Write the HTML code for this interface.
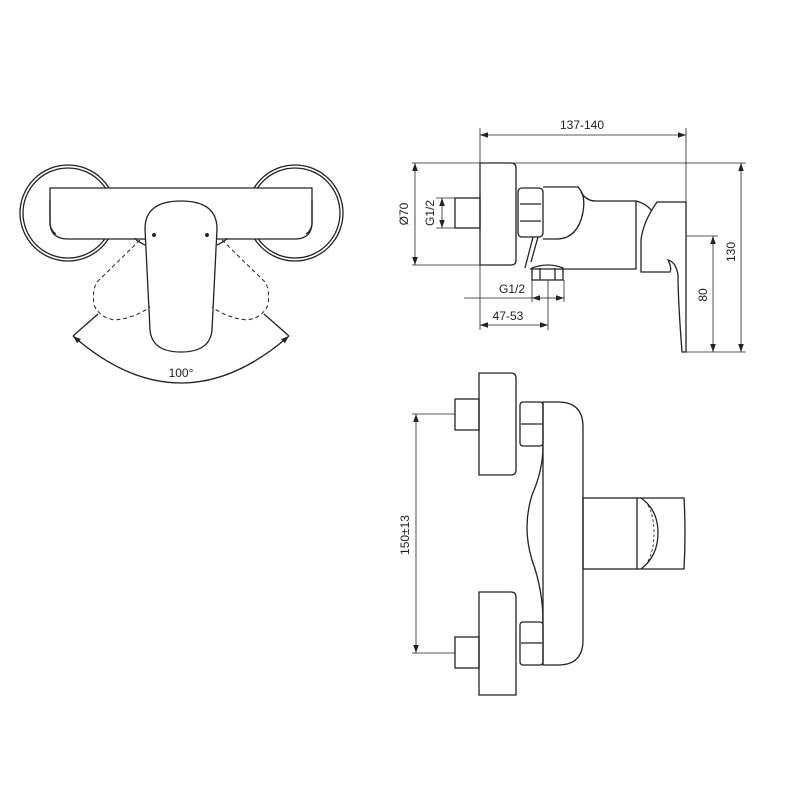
<!DOCTYPE html>
<html><head><meta charset="utf-8"><style>
html,body{margin:0;padding:0;background:#fff;}
svg{display:block;}
text{font-family:"Liberation Sans",sans-serif;fill:#222;}
</style></head><body>
<svg width="800" height="800" viewBox="0 0 800 800" xmlns="http://www.w3.org/2000/svg">
<defs>
<marker id="a" viewBox="0 0 10 10" refX="10" refY="5" markerWidth="8" markerHeight="8" orient="auto-start-reverse" markerUnits="userSpaceOnUse"><path d="M0,1.5 L10,5 L0,8.5 z" fill="#222"/></marker>
</defs>
<g fill="none" stroke="#222" stroke-width="1.3">
<!-- ===== Top view (left) ===== -->
<circle cx="68" cy="213" r="48"/><circle cx="68" cy="213" r="45"/>
<circle cx="295" cy="213" r="48"/><circle cx="295" cy="213" r="45"/>
<path d="M50,188 L312,188 L312,222 Q312,239 295,239 L68,239 Q50,239 50,222 Z" fill="#fff"/>
<path d="M50,200 L50,225 Q52,232 56,234" />
<path d="M312,200 L312,225 Q310,232 306,234"/>
<path d="M145,229 Q145,201 181,201 Q217,201 217,229 L212,330 Q210,352 181,352 Q152,352 150,330 Z" fill="#fff"/>
<circle cx="154" cy="235" r="1.3" fill="#222"/><circle cx="207" cy="235" r="1.3" fill="#222"/>
<path d="M145,245 Q135,240 135,238" />
<path d="M217,245 Q227,240 227,238"/>
<g stroke-dasharray="4,3" stroke-width="1">
<path d="M140,240 L97,282 Q92,290 94,305 Q100,318 115,320 Q135,318 150,307"/>
<path d="M222,240 L265,282 Q270,290 268,305 Q262,318 247,320 Q227,318 212,307"/>
</g>
<path d="M98,314 L73,336"/><path d="M264,314 L289,336"/>
<path d="M73,336 Q181,430 289,336" marker-start="url(#a)" marker-end="url(#a)"/>

<!-- ===== Side view (top right) ===== -->
<line x1="480" y1="128" x2="480" y2="330" stroke-width="0.8"/>
<line x1="686" y1="128" x2="686" y2="202" stroke-width="0.8"/>
<line x1="480" y1="135" x2="686" y2="135" stroke-width="0.8" marker-start="url(#a)" marker-end="url(#a)"/>
<line x1="412" y1="163" x2="746" y2="163" stroke-width="0.8"/>
<line x1="412" y1="265" x2="480" y2="265" stroke-width="0.8"/>
<line x1="415" y1="163" x2="415" y2="265" stroke-width="0.8" marker-start="url(#a)" marker-end="url(#a)"/>
<line x1="436" y1="198" x2="455" y2="198" stroke-width="0.8"/>
<line x1="436" y1="228" x2="455" y2="228" stroke-width="0.8"/>
<line x1="442" y1="198" x2="442" y2="228" stroke-width="0.8" marker-start="url(#a)" marker-end="url(#a)"/>
<line x1="741" y1="163" x2="741" y2="352" stroke-width="0.8" marker-start="url(#a)" marker-end="url(#a)"/>
<line x1="686" y1="236" x2="718" y2="236" stroke-width="0.8"/>
<line x1="686" y1="352" x2="746" y2="352" stroke-width="0.8"/>
<line x1="713" y1="236" x2="713" y2="352" stroke-width="0.8" marker-start="url(#a)" marker-end="url(#a)"/>
<line x1="532" y1="280" x2="532" y2="302" stroke-width="0.8"/>
<line x1="564" y1="280" x2="564" y2="302" stroke-width="0.8"/>
<line x1="548" y1="280" x2="548" y2="330" stroke-width="0.8"/>
<line x1="464" y1="298" x2="532" y2="298" stroke-width="0.8"/>
<line x1="532" y1="298" x2="548" y2="298" stroke-width="0.8" marker-start="url(#a)"/>
<line x1="548" y1="298" x2="564" y2="298" stroke-width="0.8" marker-end="url(#a)"/>
<line x1="480" y1="325" x2="548" y2="325" stroke-width="0.8" marker-start="url(#a)" marker-end="url(#a)"/>

<rect x="455" y="198" width="25" height="30"/>
<path d="M480,163 L511,163 Q516,163 516,168 L516,260 Q516,265 511,265 L480,265 Z"/>
<rect x="518" y="188" width="25" height="49" rx="4"/>
<line x1="520" y1="204" x2="541" y2="204"/><line x1="520" y1="221" x2="541" y2="221"/>
<path d="M543,187 L578,187 Q586,195 583,212 Q578,238 558,239 L543,239"/>
<path d="M581,192 Q586,201 596,201 L636,201 L636,269 L530,269"/>
<path d="M533,237 L525,268 M538,237 L531,262"/>
<path d="M636,201 Q648,204 654,214"/>
<path d="M657,202 L686,202 L686,352 L682,352 Q678,300 678,275 Q676,262 668,260 Q672,268 670,272 L641,272 L641,240 Q643,222 657,202 Z" fill="#fff"/>
<path d="M532,268 Q548,262 563,268 L563,280 L532,280 Z"/>
<line x1="540" y1="268" x2="540" y2="280"/><line x1="555" y1="268" x2="555" y2="280"/>

<!-- ===== Front view (bottom right) ===== -->
<line x1="412" y1="414" x2="455" y2="414" stroke-width="0.8"/>
<line x1="412" y1="653" x2="455" y2="653" stroke-width="0.8"/>
<line x1="416" y1="414" x2="416" y2="653" stroke-width="0.8" marker-start="url(#a)" marker-end="url(#a)"/>
<rect x="455" y="399" width="24" height="31"/>
<path d="M479,373 L511,373 Q516,373 516,378 L516,470 Q516,475 511,475 L479,475 Z"/>
<rect x="520" y="402" width="23" height="44" rx="3"/>
<line x1="521" y1="424" x2="542" y2="424"/>
<path d="M543,402 L558,402 Q583,402 583,427 L583,640 Q583,665 558,665 L543,665 Z"/>
<path d="M543,446 Q543,470 532,495 Q522,527 532,560 Q543,590 543,622"/>
<rect x="583" y="498" width="54" height="71"/>
<path d="M637,498 L684,498 Q686,533 684,569 L637,569"/>
<path d="M641,498 Q658,510 658,533 Q658,556 641,569"/>
<path d="M645,501 Q654,512 654,533 Q654,554 645,566" stroke-dasharray="3,2" stroke-width="0.8"/>
<rect x="455" y="637" width="24" height="31"/>
<path d="M479,592 L511,592 Q516,592 516,597 L516,695 L479,695 Z"/>
<rect x="520" y="622" width="23" height="43" rx="3"/>
<line x1="521" y1="643" x2="542" y2="643"/>
</g>
<g font-size="12">
<text x="181" y="377" text-anchor="middle">100°</text>
<text x="582" y="129" text-anchor="middle">137-140</text>
<text x="512" y="293" text-anchor="middle">G1/2</text>
<text x="508" y="320" text-anchor="middle">47-53</text>
<text transform="translate(408,214) rotate(-90)" text-anchor="middle">Ø70</text>
<text transform="translate(434,213) rotate(-90)" text-anchor="middle">G1/2</text>
<text transform="translate(735,252) rotate(-90)" text-anchor="middle">130</text>
<text transform="translate(707,295) rotate(-90)" text-anchor="middle">80</text>
<text transform="translate(409,535) rotate(-90)" text-anchor="middle">150±13</text>
</g>
</svg>
</body></html>
